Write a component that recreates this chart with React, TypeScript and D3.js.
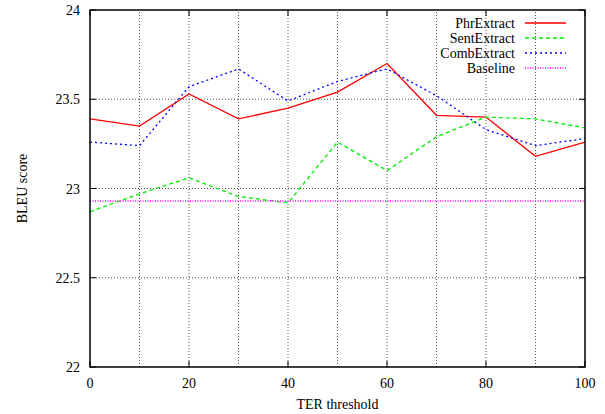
import { useEffect, useRef } from "react";
import * as d3 from "d3";

const thresholds = [0, 10, 20, 30, 40, 50, 60, 70, 80, 90, 100];
const phrExtract = [23.39, 23.35, 23.53, 23.39, 23.45, 23.54, 23.70, 23.41, 23.40, 23.18, 23.26];
const sentExtract = [22.87, 22.97, 23.06, 22.955, 22.92, 23.26, 23.10, 23.29, 23.40, 23.39, 23.34];
const combExtract = [23.26, 23.24, 23.57, 23.67, 23.49, 23.60, 23.67, 23.52, 23.33, 23.24, 23.28];
const baseline = [22.93, 22.93, 22.93, 22.93, 22.93, 22.93, 22.93, 22.93, 22.93, 22.93, 22.93];

const xTicks = [0, 20, 40, 60, 80, 100];
const xGrid = [10, 20, 30, 40, 50, 60, 70, 80, 90];
const yTicks = [22, 22.5, 23, 23.5, 24];

const series = [
    { name: "PhrExtract", values: phrExtract, color: "#ff0000", dash: null },
    { name: "SentExtract", values: sentExtract, color: "#00ee00", dash: "4,3" },
    { name: "CombExtract", values: combExtract, color: "#0000ff", dash: "2,3" },
    { name: "Baseline", values: baseline, color: "#ff00ff", dash: "1,1.5" },
];

export default function App() {
    const svgRef = useRef<SVGSVGElement>(null);

    useEffect(() => {
        const svg = d3.select(svgRef.current);
        svg.selectAll("*").remove();

        const width = 605, height = 414;
        const margin = { top: 10, right: 20, bottom: 47, left: 90 };

        const x = d3.scaleLinear().domain([0, 100]).range([margin.left, width - margin.right]);
        const y = d3.scaleLinear().domain([22, 24]).range([height - margin.bottom, margin.top]);

        // grid
        svg.append("g")
            .selectAll("line")
            .data(xGrid)
            .join("line")
            .attr("x1", (d) => x(d)).attr("x2", (d) => x(d))
            .attr("y1", y(22)).attr("y2", y(24))
            .attr("stroke", "#555")
            .attr("stroke-width", 1)
            .attr("stroke-dasharray", "1,2");

        svg.append("g")
            .selectAll("line")
            .data(yTicks.slice(1, -1))
            .join("line")
            .attr("x1", x(0)).attr("x2", x(100))
            .attr("y1", (d) => y(d)).attr("y2", (d) => y(d))
            .attr("stroke", "#555")
            .attr("stroke-width", 1)
            .attr("stroke-dasharray", "1,2");

        // ticks (inside, mirrored)
        const t = svg.append("g").attr("stroke", "#000").attr("stroke-width", 1);
        xTicks.forEach((d) => {
            t.append("line").attr("x1", x(d)).attr("x2", x(d)).attr("y1", y(22)).attr("y2", y(22) - 6);
            t.append("line").attr("x1", x(d)).attr("x2", x(d)).attr("y1", y(24)).attr("y2", y(24) + 6);
        });
        yTicks.forEach((d) => {
            t.append("line").attr("x1", x(0)).attr("x2", x(0) + 6).attr("y1", y(d)).attr("y2", y(d));
            t.append("line").attr("x1", x(100)).attr("x2", x(100) - 6).attr("y1", y(d)).attr("y2", y(d));
        });

        // lines
        const line = d3.line<number>()
            .x((d, i) => x(thresholds[i]))
            .y((d) => y(d));

        series.forEach((s) => {
            svg.append("path")
                .datum(s.values)
                .attr("fill", "none")
                .attr("stroke", s.color)
                .attr("stroke-width", 1.3)
                .attr("stroke-dasharray", s.dash)
                .attr("d", line);
        });

        // frame
        svg.append("rect")
            .attr("x", x(0)).attr("y", y(24))
            .attr("width", x(100) - x(0)).attr("height", y(22) - y(24))
            .attr("fill", "none").attr("stroke", "#000").attr("stroke-width", 1.5);

        // tick labels
        svg.append("g")
            .selectAll("text")
            .data(xTicks)
            .join("text")
            .attr("x", (d) => x(d)).attr("y", y(22) + 21)
            .attr("text-anchor", "middle")
            .text((d) => d);

        svg.append("g")
            .selectAll("text")
            .data(yTicks)
            .join("text")
            .attr("x", x(0) - 10).attr("y", (d) => y(d) + 5)
            .attr("text-anchor", "end")
            .text((d) => d);

        // axis titles
        svg.append("text")
            .attr("x", (x(0) + x(100)) / 2).attr("y", 409)
            .attr("text-anchor", "middle")
            .text("TER threshold");

        svg.append("text")
            .attr("transform", `translate(27,${(y(22) + y(24)) / 2}) rotate(-90)`)
            .attr("text-anchor", "middle")
            .text("BLEU score");

        // legend
        const lg = svg.append("g");
        series.forEach((s, i) => {
            const ly = 23 + i * 15;
            lg.append("text")
                .attr("x", 515).attr("y", ly + 5)
                .attr("text-anchor", "end")
                .text(s.name);
            lg.append("line")
                .attr("x1", 525).attr("x2", 566)
                .attr("y1", ly).attr("y2", ly)
                .attr("stroke", s.color)
                .attr("stroke-width", 1.3)
                .attr("stroke-dasharray", s.dash);
        });
    }, []);

    return (
        <svg ref={svgRef} width={605} height={414}
            style={{
                position: "absolute", left: 0, top: 0, background: "#fff",
                fontFamily: "'Liberation Serif', 'Times New Roman', serif", fontSize: 14,
            }} />
    );
}
